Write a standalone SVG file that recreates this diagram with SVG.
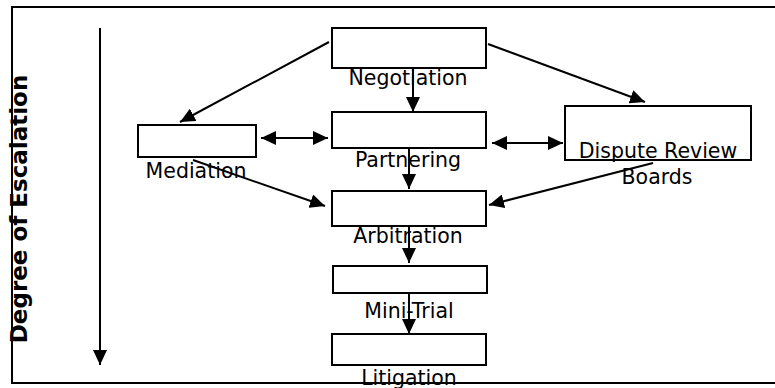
<svg xmlns="http://www.w3.org/2000/svg" width="775" height="388" viewBox="0 0 775 388">
<style>
.box{fill:#fff;stroke:#000;stroke-width:2}
.lbl{font-family:"DejaVu Sans",Verdana,sans-serif;font-size:20.5px;fill:#000;text-anchor:middle}
.ttl{font-family:"DejaVu Sans",Verdana,sans-serif;font-size:23px;font-weight:bold;fill:#000;text-anchor:middle}
.con{stroke:#000;stroke-width:2;fill:none}
.frame{stroke:#000;stroke-width:2;fill:none}
</style>
<defs>
<marker id="ah" markerUnits="userSpaceOnUse" markerWidth="15" markerHeight="14" refX="15" refY="7" orient="auto-start-reverse">
<path d="M0,0 L15,7 L0,14 z" fill="#000"/>
</marker>
</defs>
<path class="frame" d="M776,7 H12 V383 H776"/>
<text class="ttl" transform="translate(27,209) rotate(-90)">Degree of Escalation</text>
<line class="con" x1="100" y1="28" x2="100" y2="365" marker-end="url(#ah)"/>
<g id="negotiation"><rect class="box" x="332" y="28" width="154" height="40"/></g>
<g id="partnering"><rect class="box" x="332" y="112" width="154" height="36"/></g>
<g id="mediation"><rect class="box" x="138" y="125" width="118" height="32"/></g>
<g id="drb"><rect class="box" x="565" y="106" width="186" height="54"/></g>
<g id="arbitration"><rect class="box" x="332" y="191" width="154" height="35"/></g>
<g id="minitrial"><rect class="box" x="333" y="266" width="154" height="27"/></g>
<g id="litigation"><rect class="box" x="332" y="334" width="154" height="31"/></g>
<g id="connectors">
<line class="con" x1="329" y1="42" x2="180" y2="122" marker-end="url(#ah)"/>
<line class="con" x1="488" y1="44" x2="645" y2="102" marker-end="url(#ah)"/>
<line class="con" x1="413" y1="68" x2="413" y2="112" marker-end="url(#ah)"/>
<line class="con" x1="261" y1="138" x2="328" y2="138" marker-start="url(#ah)" marker-end="url(#ah)"/>
<line class="con" x1="492" y1="143" x2="563" y2="143" marker-start="url(#ah)" marker-end="url(#ah)"/>
<line class="con" x1="409" y1="148" x2="409" y2="189" marker-end="url(#ah)"/>
<line class="con" x1="193" y1="160" x2="325" y2="206" marker-end="url(#ah)"/>
<line class="con" x1="653" y1="163" x2="489" y2="205" marker-end="url(#ah)"/>
<line class="con" x1="409" y1="226" x2="409" y2="263" marker-end="url(#ah)"/>
<line class="con" x1="409" y1="293" x2="409" y2="334" marker-end="url(#ah)"/>
</g>
<g id="labels">
<text class="lbl" x="408" y="85">Negotiation</text>
<text class="lbl" x="408" y="167">Partnering</text>
<text class="lbl" x="196" y="178">Mediation</text>
<text class="lbl" x="658" y="158">Dispute Review</text>
<text class="lbl" x="657" y="184">Boards</text>
<text class="lbl" x="408" y="243">Arbitration</text>
<text class="lbl" x="409" y="318">Mini-Trial</text>
<text class="lbl" x="409" y="385">Litigation</text>
</g>
</svg>
